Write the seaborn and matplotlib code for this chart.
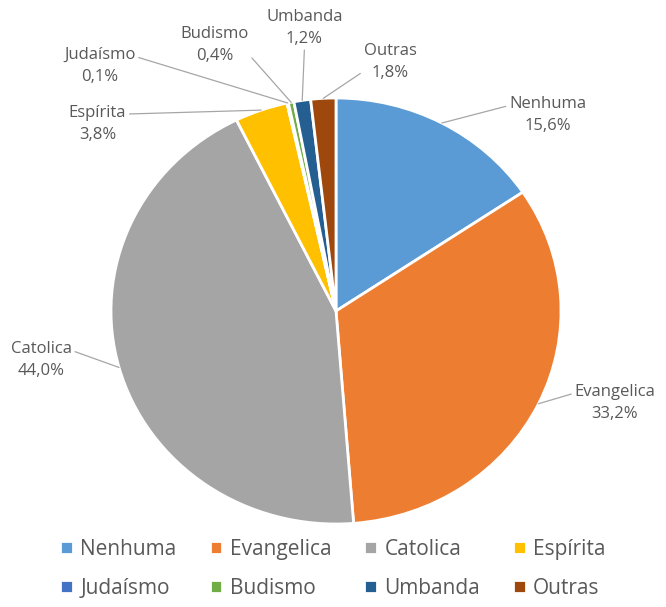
import matplotlib.pyplot as plt
import seaborn as sns
import numpy as np

sns.set_theme(style="white")
plt.rcParams['font.family'] = ['Open Sans', 'DejaVu Sans']

religioes = ["Nenhuma", "Evangelica", "Catolica", "Espírita",
             "Judaísmo", "Budismo", "Umbanda", "Outras"]
percentuais = [15.6, 33.2, 44.0, 3.8, 0.1, 0.4, 1.2, 1.8]
cores = ["#5B9BD5", "#ED7D31", "#A5A5A5", "#FFC000",
         "#4472C4", "#70AD47", "#255E91", "#9E480E"]

# label placement (data coords, pie radius = 1) and where the leader line meets the text box
label_pos = [(0.94, 0.92), (1.24, -0.43), (-1.31, -0.23), (-1.06, 0.88),
             (-1.05, 1.15), (-0.54, 1.25), (-0.14, 1.33), (0.24, 1.17)]
line_rel = [(0, 0.75), (0, 0.75), (1, 0.75), (1, 0.75),
            (1, 0.75), (1, 0.25), (0.5, 0.0), (0, 0.25)]

fig = plt.figure(figsize=(6.66, 6.07), dpi=100)
ax = fig.add_axes([0, 0, 1, 1])

wedges, _ = ax.pie(percentuais, colors=cores, startangle=90, counterclock=False,
                   radius=1, wedgeprops=dict(edgecolor="white", linewidth=2))

for w, nome, val, pos, rel in zip(wedges, religioes, percentuais, label_pos, line_rel):
    ang = np.deg2rad((w.theta1 + w.theta2) / 2)
    edge = (np.cos(ang), np.sin(ang))
    txt = f"{nome}\n{val:.1f}%".replace(".", ",")
    ax.annotate(txt, xy=edge, xytext=pos, ha="center", va="center",
                fontsize=12, color="#595959", linespacing=1.5,
                arrowprops=dict(arrowstyle="-", color="#A6A6A6", lw=0.9,
                                shrinkA=0, shrinkB=0, relpos=rel))

ax.set_aspect("auto")
ax.set_xlim(-336 / 225, 330 / 225)
ax.set_ylim(-296 / 213, 311 / 213)
ax.axis("off")

# legend is filled column by column, so reorder to read row by row
ordem = [0, 4, 1, 5, 2, 6, 3, 7]
fig.legend([wedges[i] for i in ordem], [religioes[i] for i in ordem],
           loc="center", bbox_to_anchor=(0.5, 0.063), ncol=4,
           frameon=False, fontsize=15, handlelength=0.6, handleheight=0.6,
           handletextpad=0.35, columnspacing=1.6, labelspacing=0.85,
           labelcolor="#595959")

plt.savefig("out.png", dpi=100)
